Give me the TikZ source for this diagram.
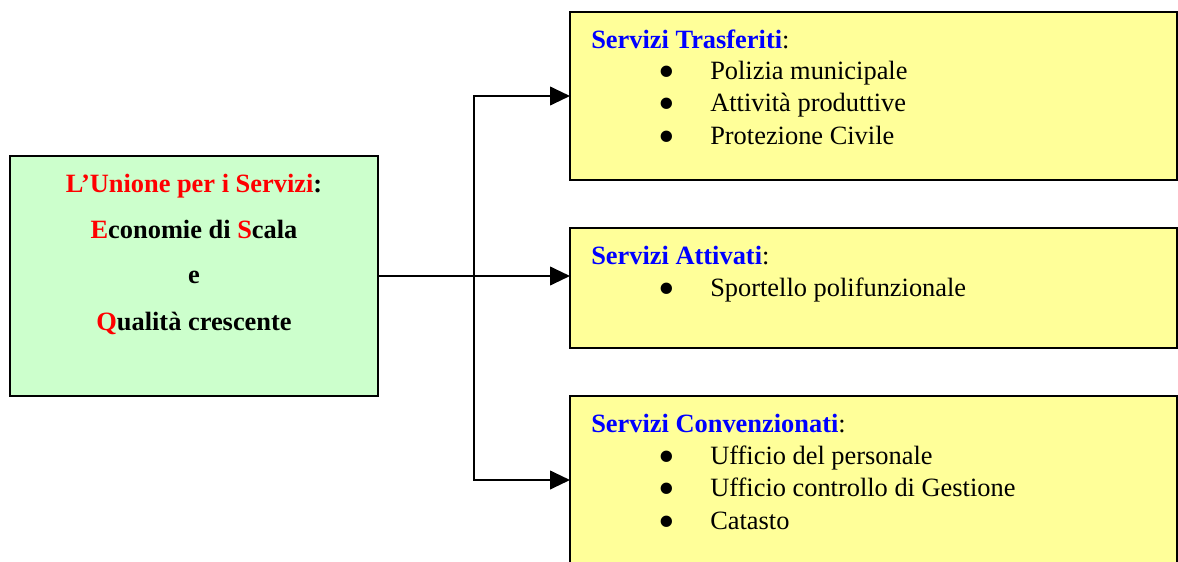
\documentclass[tikz,border=0pt]{standalone}
\usepackage{fontspec}
\setmainfont{Liberation Serif}
\usetikzlibrary{arrows.meta}
\definecolor{boxgreen}{HTML}{CCFFCC}
\definecolor{boxyellow}{HTML}{FFFF99}
\definecolor{titleblue}{HTML}{0000FF}
\definecolor{accentred}{HTML}{FF0000}
\newcommand{\bigbullet}{\smash{\raisebox{-6pt}{\scalebox{1.8}{•}}}}
\begin{document}
\begin{tikzpicture}[x=0.75pt,y=-0.75pt,
  panel/.style={draw=black, line width=1.5pt, rectangle, anchor=north west, inner sep=0pt, outer sep=0pt},
  txt/.style={anchor=base west, inner sep=0pt, font=\fontsize{19.8}{24}\selectfont},
  bul/.style={anchor=base, inner sep=0pt, font=\fontsize{19.8}{24}\selectfont},
  ctxt/.style={anchor=base, inner sep=0pt, font=\fontsize{19.8}{24}\selectfont\bfseries},
  link/.style={line width=1.5pt, -{Triangle[length=15pt,width=14pt]}},
  plain/.style={line width=1.5pt}
]
\useasboundingbox (0,0) rectangle (1178,561);

% boxes
\node[panel, fill=boxgreen, minimum width=276pt, minimum height=180pt] (main) at (10,156) {};
\node[panel, fill=boxyellow, minimum width=455.25pt, minimum height=126pt] (top) at (570,12) {};
\node[panel, fill=boxyellow, minimum width=455.25pt, minimum height=90pt] (mid) at (570,228) {};
\node[panel, fill=boxyellow, minimum width=455.25pt, minimum height=126pt] (bot) at (570,396) {};

% green box text
\node[ctxt] (g1) at (194,192) {\textcolor{accentred}{L’Unione per i Servizi}:};
\node[ctxt] (g2) at (194,238) {\textcolor{accentred}{E}conomie di \textcolor{accentred}{S}cala};
\node[ctxt] (g3) at (194,283) {e};
\node[ctxt] (g4) at (194,330) {\textcolor{accentred}{Q}ualità crescente};

% top box text
\node[txt] (h1) at (591,48) {\textbf{\textcolor{titleblue}{Servizi Trasferiti}}:};
\node[bul] (b11) at (667,79) {\bigbullet};
\node[txt] (i11) at (710,79) {Polizia municipale};
\node[bul] (b12) at (667,111) {\bigbullet};
\node[txt] (i12) at (710,111) {Attività produttive};
\node[bul] (b13) at (667,144) {\bigbullet};
\node[txt] (i13) at (710,144) {Protezione Civile};

% middle box text
\node[txt] (h2) at (591,264) {\textbf{\textcolor{titleblue}{Servizi Attivati}}:};
\node[bul] (b21) at (667,296) {\bigbullet};
\node[txt] (i21) at (710,296) {Sportello polifunzionale};

% bottom box text
\node[txt] (h3) at (591,432) {\textbf{\textcolor{titleblue}{Servizi Convenzionati}}:};
\node[bul] (b31) at (667,464) {\bigbullet};
\node[txt] (i31) at (710,464) {Ufficio del personale};
\node[bul] (b32) at (667,496) {\bigbullet};
\node[txt] (i32) at (710,496) {Ufficio controllo di Gestione};
\node[bul] (b33) at (667,529) {\bigbullet};
\node[txt] (i33) at (710,529) {Catasto};

% connectors
\coordinate (fork) at (474,276);
\draw[plain] (main.east) -- (fork);
\draw[link] (fork) |- (top.west);
\draw[link] (fork) -- (fork -| mid.west);
\draw[link] (fork) |- (bot.west);
\end{tikzpicture}
\end{document}
